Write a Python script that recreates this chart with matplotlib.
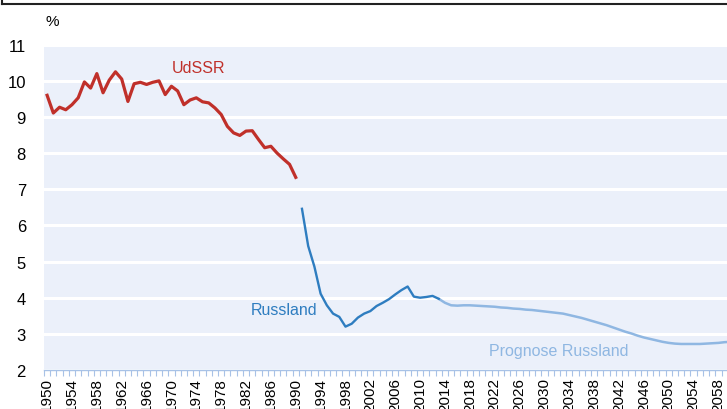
import matplotlib; matplotlib.use("Agg")
import matplotlib.pyplot as plt
from matplotlib.lines import Line2D
import numpy as np

plt.rcParams["font.family"] = ["Liberation Sans", "DejaVu Sans"]

RED = "#C0302A"; BLUE = "#2E7DC0"; LIGHT = "#8FB7E2"; BG = "#EBF0FA"; TICK = "#A8C2E6"

# Geburtenrate in %
udssr_years = list(range(1950, 1991))
udssr = [9.60, 9.11, 9.27, 9.20, 9.34, 9.53, 9.97, 9.80, 10.20, 9.67,
         10.02, 10.25, 10.05, 9.43, 9.92, 9.96, 9.90, 9.96, 10.00, 9.62,
         9.85, 9.72, 9.34, 9.47, 9.53, 9.42, 9.39, 9.25, 9.07, 8.74,
         8.56, 8.49, 8.61, 8.62, 8.38, 8.15, 8.19, 8.00, 7.84, 7.69, 7.33]

russ_years = list(range(1991, 2014))
russ = [6.46, 5.43, 4.86, 4.11, 3.79, 3.56, 3.47, 3.20, 3.28, 3.45,
        3.56, 3.63, 3.77, 3.86, 3.96, 4.09, 4.21, 4.31, 4.03, 4.00,
        4.02, 4.05, 3.97]

prog_years = list(range(2013, 2061))
prog = [3.97, 3.86, 3.79, 3.78, 3.79, 3.79, 3.78, 3.77, 3.76, 3.75,
        3.73, 3.72, 3.70, 3.69, 3.67, 3.66, 3.64, 3.62, 3.60, 3.58,
        3.56, 3.52, 3.48, 3.44, 3.39, 3.34, 3.29, 3.24, 3.18, 3.12,
        3.06, 3.01, 2.95, 2.90, 2.86, 2.82, 2.78, 2.75, 2.73, 2.72,
        2.72, 2.72, 2.72, 2.73, 2.74, 2.75, 2.77, 2.78]

yticks = list(range(2, 12))
xlabels = list(range(1950, 2059, 4))

fig = plt.figure(figsize=(7.27, 4.10), dpi=100)
ax = fig.add_axes([44/727, 39/410, 690/727, 325.3/410])
ax.set_facecolor(BG)

ax.plot(prog_years, prog, color=LIGHT, lw=1.8, zorder=3, solid_capstyle="round")
ax.plot(russ_years, russ, color=BLUE, lw=1.7, zorder=4)
ax.plot(udssr_years, udssr, color=RED, lw=2.3, zorder=4)

ax.set_xlim(1949.5, 2060.5)
ax.set_ylim(2, 11)
ax.set_yticks(yticks)
ax.yaxis.grid(True, color="white", lw=2.2, zorder=1)
ax.set_axisbelow(True)
ax.tick_params(axis="y", length=0, labelsize=12, pad=13)

ax.set_xticks(xlabels)
ax.set_xticklabels([str(y) for y in xlabels], rotation=90, fontsize=11)
ax.set_xticks(np.arange(1949.5, 2061, 1), minor=True)
ax.tick_params(axis="x", which="major", length=0, pad=5)
ax.tick_params(axis="x", which="minor", length=4, color=TICK, width=0.8)

for s in ("top", "right", "left"): ax.spines[s].set_visible(False)
ax.spines["bottom"].set_color(TICK); ax.spines["bottom"].set_linewidth(1.0)

ax.text(1974.3, 10.36, "UdSSR", color=RED, fontsize=11.5, ha="center", va="center")
ax.text(1988.1, 3.68, "Russland", color=BLUE, fontsize=11.5, ha="center", va="center")
ax.text(2032.3, 2.55, "Prognose Russland", color=LIGHT, fontsize=11.5, ha="center", va="center")

fig.text(45/727, 1 - 22/410, "%", fontsize=11, ha="left", va="center")

# Rahmen des darüberliegenden Elements
fig.add_artist(Line2D([2/727, 1], [1 - 5/410, 1 - 5/410], color="#222222", lw=1.5))
fig.add_artist(Line2D([2/727, 2/727], [1, 1 - 5/410], color="#222222", lw=1.5))

fig.savefig("out.png", dpi=100, facecolor="white")
